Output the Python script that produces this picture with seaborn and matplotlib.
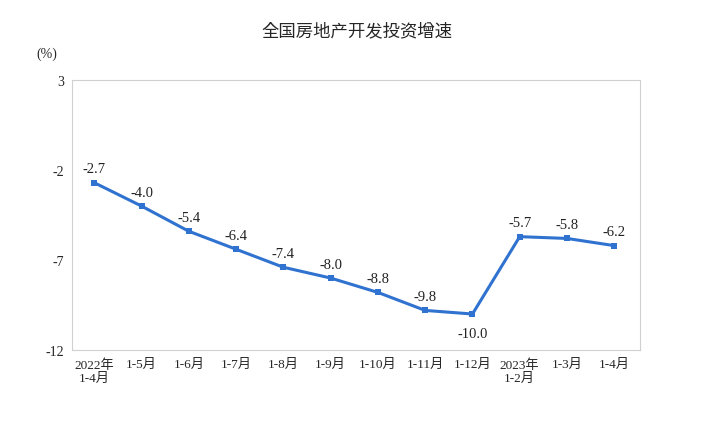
import matplotlib
matplotlib.use("Agg")
import matplotlib.pyplot as plt
from matplotlib import font_manager
import seaborn as sns
import pandas as pd

sns.set_theme(style="white")

# pick whatever CJK family is registered
cjk_names = sorted({f.name for f in font_manager.fontManager.ttflist if "CJK" in f.name})
cjk = next((n for n in cjk_names if "SC" in n), cjk_names[0] if cjk_names else "DejaVu Sans")
plt.rcParams["font.family"] = ["Liberation Serif", cjk]

periods = ["2022年\n1-4月", "1-5月", "1-6月", "1-7月", "1-8月", "1-9月",
           "1-10月", "1-11月", "1-12月", "2023年\n1-2月", "1-3月", "1-4月"]
growth = [-2.7, -4.0, -5.4, -6.4, -7.4, -8.0, -8.8, -9.8, -10.0, -5.7, -5.8, -6.2]
yticks = [3, -2, -7, -12]

df = pd.DataFrame({"idx": range(len(periods)), "growth": growth})

fig = plt.figure(figsize=(7.13, 4.27), dpi=100)
ax = fig.add_axes([0.101, 0.178, 0.797, 0.632])
sns.lineplot(data=df, x="idx", y="growth", ax=ax, color="#2f72cf", lw=2.2,
             marker="s", markersize=5, markeredgewidth=0)

for i, v in enumerate(growth):
    off = -14 if v == -10.0 else 10
    ax.annotate(f"{v:.1f}", (i, v), textcoords="offset points", xytext=(0, off),
                ha="center", va="center", fontsize=10.5, color="#222222")

ax.set_xlim(-0.47, 11.55)
ax.set_ylim(-12, 3)
ax.set_yticks(yticks)
ax.set_yticklabels([str(t) for t in yticks], fontsize=10)
ax.set_xticks(range(len(periods)))
ax.set_xticklabels(periods, fontsize=9.5, linespacing=1.1)
ax.tick_params(axis="both", length=0, pad=6)
ax.set_xlabel("")
ax.set_ylabel("")
for s in ax.spines.values():
    s.set_color("#d0d0d0")
    s.set_linewidth(0.8)

fig.text(0.5, 0.915, "全国房地产开发投资增速", ha="center", fontsize=12.5,
         fontfamily=cjk)
fig.text(0.065, 0.865, "(%)", ha="center", fontsize=10)

fig.savefig("out.png", dpi=100)
